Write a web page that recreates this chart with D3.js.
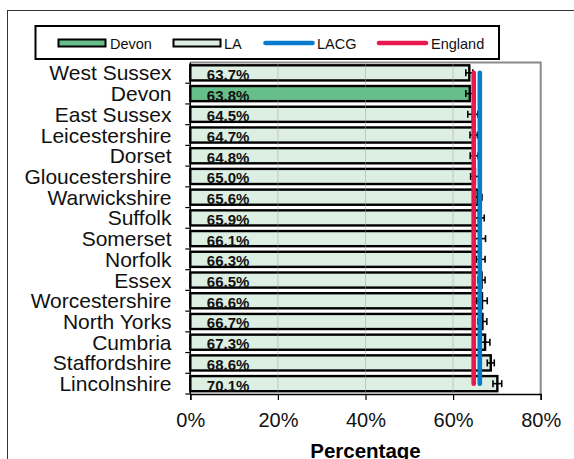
<!DOCTYPE html>
<html>
<head>
<meta charset="utf-8">
<script src="https://cdn.jsdelivr.net/npm/d3@7"></script>
<style>
    html, body { margin: 0; padding: 0; background: #fff; overflow: hidden; }
    svg { display: block; font-family: Arial, "Liberation Sans", sans-serif; }
</style>
</head>
<body>
<svg id="chart" width="574" height="459"></svg>
<script>
// Local authorities, lowest to highest
const categories = [
    'West Sussex', 'Devon', 'East Sussex', 'Leicestershire', 'Dorset',
    'Gloucestershire', 'Warwickshire', 'Suffolk', 'Somerset', 'Norfolk',
    'Essex', 'Worcestershire', 'North Yorks', 'Cumbria', 'Staffordshire',
    'Lincolnshire'
];
const values = [63.7, 63.8, 64.5, 64.7, 64.8, 65.0, 65.6, 65.9, 66.1, 66.3, 66.5, 66.6, 66.7, 67.3, 68.6, 70.1];
const lowerCI = [62.9, 62.9, 63.35, 63.85, 63.9, 64.0, 64.6, 64.7, 64.8, 65.3, 65.7, 65.4, 65.7, 66.2, 67.8, 69.1];
const upperCI = [64.5, 64.7, 65.65, 65.55, 65.7, 66.0, 66.6, 67.1, 67.4, 67.3, 67.3, 67.8, 67.7, 68.4, 69.4, 71.1];
const highlight = 'Devon';
const englandValue = 64.7;
const lacgValue = 66.1;
const xTicks = [0, 20, 40, 60, 80];
const legendItems = ['Devon', 'LA', 'LACG', 'England'];

(function() {
    'use strict';

    const colors = {
        Devon: '#66bf8a',
        LA: '#ddefe2',
        LACG: '#0a7bcc',
        England: '#e8194f'
    };

    const svg = d3.select('#chart');
    const width = 574;

    const margin = { top: 62.5, right: 33.3, bottom: 65, left: 190.3 };
    const plotBottom = 394;

    // Outer chart frame (runs off the right / bottom of the picture)
    svg.append('rect')
        .attr('x', 7.5).attr('y', 10.5)
        .attr('width', 700).attr('height', 600)
        .attr('fill', '#fff')
        .attr('stroke', '#333')
        .attr('stroke-width', 1);

    // Scales
    const x = d3.scaleLinear()
        .domain([0, 80])
        .range([margin.left, width - margin.right]);

    const y = d3.scaleBand()
        .domain(categories)
        .range([margin.top, plotBottom])
        .paddingInner(0.27)
        .paddingOuter(0.135);

    const step = y.step();
    const center = c => y(c) + y.bandwidth() / 2;

    const data = categories.map((c, i) => ({
        name: c, value: values[i], lo: lowerCI[i], hi: upperCI[i]
    }));

    // Bars
    svg.append('g')
        .selectAll('rect')
        .data(data)
        .join('rect')
        .attr('x', x(0))
        .attr('y', d => y(d.name))
        .attr('width', d => x(d.value) - x(0))
        .attr('height', y.bandwidth())
        .attr('fill', d => d.name === highlight ? colors.Devon : colors.LA)
        .attr('stroke', '#000')
        .attr('stroke-width', 2.4);

    // Grid lines (light, sitting over the bars)
    svg.append('g')
        .selectAll('line')
        .data(xTicks.filter(t => t > 0 && t < 80))
        .join('line')
        .attr('x1', d => x(d)).attr('x2', d => x(d))
        .attr('y1', margin.top).attr('y2', plotBottom)
        .attr('stroke', '#9a9a9a')
        .attr('stroke-opacity', 0.45)
        .attr('stroke-width', 1);

    // Value labels inside bars
    svg.append('g')
        .selectAll('text')
        .data(data)
        .join('text')
        .attr('x', x(0) + 16.5)
        .attr('y', d => center(d.name) + 7)
        .style('font-size', '15px')
        .style('font-weight', 'bold')
        .attr('fill', '#111')
        .text(d => d.value.toFixed(1) + '%');

    // Error bars
    const err = svg.append('g')
        .attr('stroke', '#000')
        .attr('stroke-width', 1.6);

    data.forEach(d => {
        const cy = center(d.name);
        err.append('line')
            .attr('x1', x(d.lo)).attr('x2', x(d.hi))
            .attr('y1', cy).attr('y2', cy);
        [d.lo, d.hi].forEach(v => {
            err.append('line')
                .attr('x1', x(v)).attr('x2', x(v))
                .attr('y1', cy - 3.5).attr('y2', cy + 3.5);
        });
    });

    // Reference lines: England and LACG
    const first = center(categories[0]);
    const last = center(categories[categories.length - 1]);

    [['England', englandValue], ['LACG', lacgValue]].forEach(([key, v]) => {
        svg.append('line')
            .attr('x1', x(v)).attr('x2', x(v))
            .attr('y1', first).attr('y2', last)
            .attr('stroke', colors[key])
            .attr('stroke-width', 4.6)
            .attr('stroke-linecap', 'round');
    });

    // Plot area frame (top + right grey)
    svg.append('path')
        .attr('d', `M${x(0)},${margin.top}H${x(80)}V${plotBottom}`)
        .attr('fill', 'none')
        .attr('stroke', '#8a8a8a')
        .attr('stroke-width', 2);

    // Y axis
    const yAxis = svg.append('g')
        .attr('transform', `translate(${x(0)},0)`);

    yAxis.append('line')
        .attr('x1', 0).attr('x2', 0)
        .attr('y1', margin.top).attr('y2', plotBottom)
        .attr('stroke', '#000').attr('stroke-width', 1.5);

    const boundaries = categories.map(c => y(c) - y.paddingInner() * step / 2).concat([plotBottom]);
    yAxis.selectAll('.ytick')
        .data(boundaries.slice(1))
        .join('line')
        .attr('class', 'ytick')
        .attr('x1', -5).attr('x2', 0)
        .attr('y1', d => d).attr('y2', d => d)
        .attr('stroke', '#000').attr('stroke-width', 1.2);

    svg.append('g')
        .selectAll('text')
        .data(categories)
        .join('text')
        .attr('x', 171.5)
        .attr('y', d => center(d) + 7.5)
        .attr('text-anchor', 'end')
        .style('font-size', '21px')
        .attr('fill', '#111')
        .text(d => d);

    // X axis
    const xAxis = svg.append('g')
        .attr('transform', `translate(0,${plotBottom})`)
        .call(d3.axisBottom(x)
            .tickValues(xTicks)
            .tickSize(6)
            .tickPadding(13)
            .tickFormat(d => d + '%'));

    xAxis.select('.domain').attr('stroke-width', 1.5);
    xAxis.selectAll('.tick line').attr('stroke-width', 1.2);
    xAxis.selectAll('text')
        .style('font-size', '20px')
        .style('font-family', 'Arial, "Liberation Sans", sans-serif')
        .attr('fill', '#111');

    svg.append('text')
        .attr('x', (x(0) + x(80)) / 2)
        .attr('y', 457.5)
        .attr('text-anchor', 'middle')
        .style('font-size', '20.5px')
        .style('font-weight', 'bold')
        .text('Percentage');

    // Legend
    const legend = svg.append('g');

    legend.append('rect')
        .attr('x', 35.5).attr('y', 26)
        .attr('width', 463.5).attr('height', 33)
        .attr('fill', '#fff')
        .attr('stroke', '#000')
        .attr('stroke-width', 2);

    const legendX = [58.5, 173.5, 263.5, 377];
    const legendTextX = [110, 224, 317, 431];

    legendItems.forEach((key, i) => {
        if (key === 'Devon' || key === 'LA') {
            legend.append('rect')
                .attr('x', legendX[i]).attr('y', 39.5)
                .attr('width', 47).attr('height', 7)
                .attr('fill', colors[key])
                .attr('stroke', '#000')
                .attr('stroke-width', 2);
        } else {
            legend.append('line')
                .attr('x1', legendX[i] + 2).attr('x2', legendX[i] + 49)
                .attr('y1', 43).attr('y2', 43)
                .attr('stroke', colors[key])
                .attr('stroke-width', 4.6)
                .attr('stroke-linecap', 'round');
        }
        legend.append('text')
            .attr('x', legendTextX[i])
            .attr('y', 48.8)
            .style('font-size', '14.5px')
            .attr('fill', '#111')
            .text(key);
    });
})();
</script>
</body>
</html>
